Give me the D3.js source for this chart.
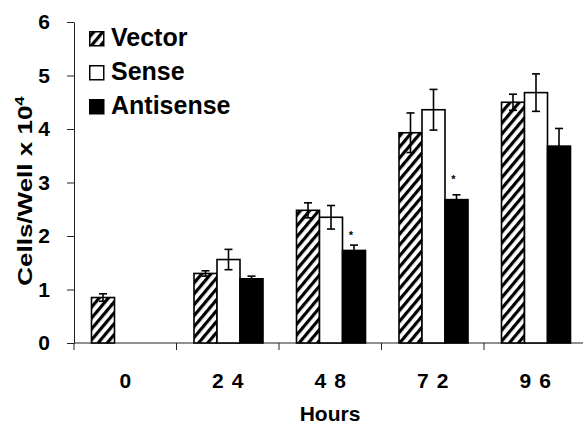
<!DOCTYPE html>
<html>
<head>
<meta charset="utf-8">
<script src="https://cdn.jsdelivr.net/npm/d3@7"></script>
<style>
  body { margin: 0; background: #fff; }
  text { font-family: "Liberation Sans", Arial, sans-serif; font-weight: bold; fill: #000; }
</style>
</head>
<body>
<div id="chart"></div>
<script>
// values (cells/well x 10^4)
const hours = ["0", "24", "48", "72", "96"];
const seriesNames = ["Vector", "Sense", "Antisense"];
const vectorMeans = [0.85, 1.30, 2.48, 3.93, 4.50];
const vectorErr = [0.07, 0.05, 0.14, 0.37, 0.15];
const senseMeans = [null, 1.56, 2.35, 4.36, 4.68];
const senseErr = [null, 0.19, 0.22, 0.38, 0.35];
const antisenseMeans = [null, 1.20, 1.73, 2.68, 3.68];
const antisenseErr = [null, 0.05, 0.10, 0.09, 0.33];
const starLevels = [null, null, 2.06, 3.11, null]; // asterisk above antisense
const yTicks = [0, 1, 2, 3, 4, 5, 6];

const width = 583;
const height = 424;
const margin = {top: 22, right: 0, bottom: 81, left: 74};
const plotBottom = height - margin.bottom;

const means = {Vector: vectorMeans, Sense: senseMeans, Antisense: antisenseMeans};
const errs = {Vector: vectorErr, Sense: senseErr, Antisense: antisenseErr};

let rows = [];
seriesNames.forEach(s => {
  hours.forEach((h, i) => {
    if (means[s][i] == null) return;
    rows.push({series: s, hour: h, value: means[s][i], err: errs[s][i]});
  });
});

const svg = d3.select("#chart")
  .append("svg")
  .attr("width", width)
  .attr("height", height);

// diagonal hatch for the vector bars
svg.append("defs")
  .append("pattern")
  .attr("id", "hatch")
  .attr("patternUnits", "userSpaceOnUse")
  .attr("width", 7)
  .attr("height", 7)
  .attr("patternTransform", "rotate(40)")
  .call(p => {
    p.append("rect").attr("width", 7).attr("height", 7).attr("fill", "#fff");
    p.append("line")
      .attr("x1", 1.6).attr("y1", 0).attr("x2", 1.6).attr("y2", 7)
      .attr("stroke", "#000").attr("stroke-width", 3.2);
  });

const fills = {Vector: "url(#hatch)", Sense: "#fff", Antisense: "#000"};

const x0 = d3.scaleBand()
  .domain(hours)
  .range([margin.left, 586.5]);
const x1 = d3.scaleBand()
  .domain(seriesNames)
  .range([17.5, 86.5]);
const y = d3.scaleLinear()
  .domain([0, 6])
  .range([plotBottom, margin.top]);

// y axis
svg.append("g")
  .attr("transform", `translate(${margin.left},0)`)
  .call(d3.axisLeft(y).tickValues(yTicks).tickFormat(d3.format("d")).tickSize(7).tickSizeOuter(0).tickPadding(17))
  .call(g => g.selectAll("text").style("font-size", "21px").style("font-family", null))
  .call(g => g.selectAll("line, path").attr("stroke", "#222"));

// x axis: labels centred in each group, ticks on group boundaries
svg.append("g")
  .attr("transform", `translate(0,${plotBottom})`)
  .call(d3.axisBottom(x0).tickSize(0).tickSizeOuter(0).tickPadding(30))
  .call(g => g.select("path").attr("d", `M${margin.left},0H${width}`).attr("stroke", "#222"))
  .call(g => g.selectAll("text")
    .style("font-size", "21px")
    .style("font-family", null)
    .style("letter-spacing", "8px")
    .attr("dx", 4));

svg.append("g")
  .selectAll("line")
  .data(hours)
  .join("line")
  .attr("x1", d => x0(d))
  .attr("x2", d => x0(d))
  .attr("y1", plotBottom)
  .attr("y2", plotBottom + 7)
  .attr("stroke", "#222");

// bars
svg.append("g")
  .selectAll("rect")
  .data(rows)
  .join("rect")
  .attr("x", d => x0(d.hour) + x1(d.series))
  .attr("y", d => y(d.value))
  .attr("width", x1.bandwidth())
  .attr("height", d => y(0) - y(d.value))
  .attr("fill", d => fills[d.series])
  .attr("stroke", "#000")
  .attr("stroke-width", 1.6);

// error bars
let eb = svg.append("g")
  .attr("stroke", "#000")
  .attr("stroke-width", 1.6)
  .selectAll("g")
  .data(rows)
  .join("g")
  .attr("transform", d => `translate(${x0(d.hour) + x1(d.series) + x1.bandwidth() / 2},0)`);
eb.append("line")
  .attr("y1", d => y(d.value + d.err))
  .attr("y2", d => y(d.value - d.err));
eb.append("line")
  .attr("x1", -4).attr("x2", 4)
  .attr("y1", d => y(d.value + d.err))
  .attr("y2", d => y(d.value + d.err));
eb.append("line")
  .attr("x1", -4).attr("x2", 4)
  .attr("y1", d => y(d.value - d.err))
  .attr("y2", d => y(d.value - d.err));

// significance stars
svg.append("g")
  .selectAll("text")
  .data(hours.map((h, i) => ({hour: h, level: starLevels[i]})).filter(d => d.level != null))
  .join("text")
  .attr("x", d => x0(d.hour) + x1("Antisense") + x1.bandwidth() / 2 - 3)
  .attr("y", d => y(d.level) + 6)
  .attr("text-anchor", "middle")
  .style("font-size", "11px")
  .text("*");

// axis titles
svg.append("text")
  .attr("x", 330)
  .attr("y", 421)
  .attr("text-anchor", "middle")
  .style("font-size", "21px")
  .text("Hours");

let yTitle = svg.append("text")
  .attr("transform", "translate(32,191) rotate(-90) scale(1.3,1)")
  .attr("text-anchor", "middle")
  .style("font-size", "20px");
yTitle.append("tspan").text("Cells/Well x 10");
yTitle.append("tspan").attr("dy", -8).style("font-size", "13px").text("4");

// legend
let legend = svg.append("g")
  .selectAll("g")
  .data(seriesNames)
  .join("g")
  .attr("transform", (d, i) => `translate(89,${46 + i * 34})`);
legend.append("rect")
  .attr("x", 0.75)
  .attr("y", -14.25)
  .attr("width", 14)
  .attr("height", 14)
  .attr("fill", d => fills[d])
  .attr("stroke", "#000")
  .attr("stroke-width", 1.5);
legend.append("text")
  .attr("x", 22)
  .style("font-size", "25px")
  .text(d => d);
</script>
</body>
</html>
